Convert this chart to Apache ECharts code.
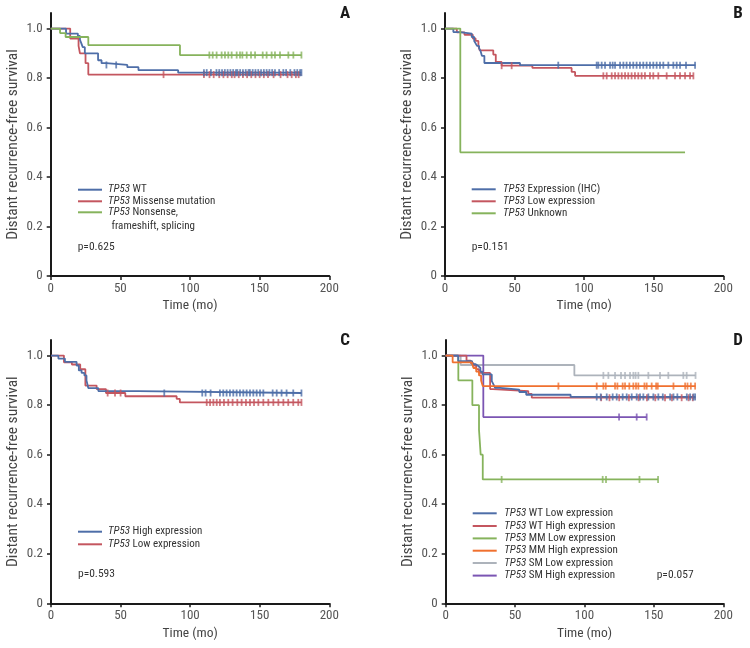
<!DOCTYPE html>
<html>
<head>
<meta charset="utf-8">
<script src="https://cdn.jsdelivr.net/npm/echarts@6/dist/echarts.min.js"></script>
<style>html,body{margin:0;padding:0;background:#fff;}#c{width:750px;height:648px;}</style>
</head>
<body>
<div id="c"></div>
<script>
// ---------- axis ticks ----------
const xTicks = [0, 50, 100, 150, 200];
const yTicks = [0, 0.2, 0.4, 0.6, 0.8, 1.0];

// ---------- Panel A ----------
const A_WT_time  = [0, 11, 19.5, 21, 22, 23, 24.5, 34, 36.5, 40, 55, 63, 91.5, 180];
const A_WT_surv  = [1, 0.98, 0.97, 0.955, 0.94, 0.925, 0.90, 0.872, 0.86, 0.853, 0.844, 0.832, 0.822, 0.822];
const A_WT_cens  = [40, 47, 110, 112, 115, 119, 121, 123, 125, 127, 129, 131, 133, 134, 136, 138, 140, 142, 143, 145, 147, 149, 151, 153, 155, 157, 159, 161, 164, 167, 169, 172, 175, 177, 179, 180];
const A_MIS_time = [0, 14, 20, 21, 25, 27, 180];
const A_MIS_surv = [1, 0.96, 0.93, 0.90, 0.86, 0.814, 0.814];
const A_MIS_cens = [81, 110, 114, 117, 121, 124, 127, 130, 132, 135, 138, 141, 144, 147, 150, 153, 156, 160, 165, 170, 173, 176, 178];
const A_NON_time = [0, 6.7, 10.7, 27, 92.8, 180];
const A_NON_surv = [1, 0.982, 0.966, 0.933, 0.893, 0.893];
const A_NON_cens = [113.9, 116.3, 119.1, 122.7, 125.1, 127.5, 129.9, 133.5, 135.9, 137.6, 140.7, 143.8, 146.7, 152.2, 155.0, 158.6, 161.0, 164.6, 170.6, 174.2, 180];

// ---------- Panel B ----------
const B_EXP_time = [0, 6, 10.8, 19.2, 21, 22, 23, 24.5, 25.5, 26.5, 28.3, 53.9, 180];
const B_EXP_surv = [1, 0.986, 0.98, 0.966, 0.95, 0.94, 0.93, 0.92, 0.91, 0.89, 0.861, 0.852, 0.852];
const B_EXP_cens = [81.4, 109, 110.2, 112.6, 115, 118.6, 120.5, 122.2, 125.8, 128.2, 130.5, 132.9, 135.3, 137.7, 140.1, 142.5, 144.9, 147.3, 149.7, 152.1, 154.5, 156.9, 160.5, 164.1, 166.5, 168.9, 173.2, 179.7];
const B_LOW_time = [0, 8.5, 14, 20, 22, 24, 25, 34.7, 36.5, 40.7, 62.8, 91, 93.5, 178.5];
const B_LOW_surv = [1, 0.985, 0.975, 0.96, 0.95, 0.93, 0.912, 0.895, 0.865, 0.85, 0.841, 0.825, 0.809, 0.809];
const B_LOW_cens = [40.7, 47.9, 113.8, 116.2, 119.8, 122.2, 124.6, 127, 129.4, 131.7, 134.1, 136.5, 138.9, 141.3, 143.7, 147.3, 149.7, 153.3, 159.3, 165.3, 168.9, 172.5, 176.1, 178.5];
const B_UNK_time = [0, 11, 172.5];
const B_UNK_surv = [1, 0.5, 0.5];
const B_UNK_cens = [];

// ---------- Panel C ----------
const C_HIGH_time = [0, 5.3, 10, 18.4, 20, 22, 24, 25.5, 26.8, 34, 62.7, 180];
const C_HIGH_surv = [1, 0.988, 0.975, 0.96, 0.94, 0.93, 0.92, 0.90, 0.869, 0.857, 0.849, 0.849];
const C_HIGH_cens = [81.4, 108.7, 111.1, 114.7, 121.4, 123.8, 126.2, 128.6, 131, 133.4, 135.8, 138.2, 140.6, 143, 145.4, 147.8, 150.2, 152.6, 159.3, 162.2, 165.7, 169.3, 174.1, 180];
const C_LOW_time = [0, 9.3, 15, 21, 24.7, 32.8, 39.5, 53.4, 90.3, 92.6, 180];
const C_LOW_surv = [1, 0.973, 0.964, 0.945, 0.879, 0.865, 0.849, 0.836, 0.825, 0.811, 0.811];
const C_LOW_cens = [40.7, 46, 50, 111.9, 114.3, 116.7, 119.1, 121.4, 124.3, 127.4, 130.5, 133.9, 137, 140.1, 143, 145.9, 149, 152.6, 156.2, 159.8, 163.4, 167, 170.5, 174.1, 177.7, 180];

// ---------- Panel D ----------
const D_WTL_time = [0, 9, 19, 21.6, 23.5, 25, 26.5, 33.2, 34.5, 35.6, 39.2, 53, 58, 90, 180];
const D_WTL_surv = [1, 0.978, 0.965, 0.958, 0.95, 0.935, 0.924, 0.897, 0.883, 0.87, 0.863, 0.853, 0.842, 0.833, 0.833];
const D_WTL_cens = [108.8, 111.7, 116, 120.3, 123.2, 127.5, 130.4, 134, 137.6, 140, 142.4, 146, 149.6, 153.2, 156.4, 161.7, 164.1, 166.9, 173.7, 176.1, 178.5, 179.7];
const D_WTH_time = [0, 15, 18, 20, 22, 24, 32, 34, 59.5, 62, 180];
const D_WTH_surv = [1, 0.98, 0.97, 0.96, 0.945, 0.93, 0.865, 0.857, 0.845, 0.83, 0.83];
const D_WTH_cens = [112, 118, 125, 132, 139, 145, 151, 158, 163, 170, 175, 178];
const D_MML_time = [0, 9.1, 19.2, 24, 25.2, 26.7, 153];
const D_MML_surv = [1, 0.9, 0.8, 0.7, 0.6, 0.5, 0.5];
const D_MML_cens = [40.3, 113.1, 115.5, 139.6, 153];
const D_MMH_time = [0, 5, 18.7, 20, 22, 24, 25.5, 26.7, 180];
const D_MMH_surv = [1, 0.973, 0.965, 0.95, 0.935, 0.92, 0.90, 0.877, 0.877];
const D_MMH_cens = [81.2, 108.8, 113.6, 115.3, 122, 123.7, 127.5, 129.2, 132.3, 135.2, 137.1, 138.8, 143.2, 144.8, 148.4, 151.6, 152.8, 164.1, 172.5, 174.2, 176.6, 179.7];
const D_SML_time = [0, 10.8, 92.7, 180];
const D_SML_surv = [1, 0.962, 0.92, 0.92];
const D_SML_cens = [113.6, 117.2, 122, 126.3, 129.2, 132.8, 135.2, 136.8, 138.8, 146, 154.4, 160.4, 171.2, 173.6, 180];
const D_SMH_time = [0, 27.1, 144.8];
const D_SMH_surv = [1, 0.752, 0.752];
const D_SMH_cens = [124.9, 137.6, 144.8];

// ---------- colours ----------
const BLUE = '#4e6ea8', RED = '#c4565f', GREEN = '#86b35c', ORANGE = '#f0702f', GREY = '#adb3bb', PURPLE = '#7b55b3';

// ---------- font selection (prefer a narrow face if installed) ----------
function hasFont(name) {
  const ctx = document.createElement('canvas').getContext('2d');
  const s = 'abcdefghijklmnopqrstuvwxyzABCDEFGHIJ0123456789';
  let diff = false;
  ['monospace', 'serif'].forEach(function (base) {
    ctx.font = '40px ' + base;
    const w0 = ctx.measureText(s).width;
    ctx.font = '40px "' + name + '", ' + base;
    const w1 = ctx.measureText(s).width;
    if (Math.abs(w1 - w0) > 0.5) diff = true;
  });
  return diff;
}
const narrowCandidates = ['Liberation Sans Narrow', 'Nimbus Sans Narrow', 'Arial Narrow', 'Roboto Condensed'];
let NARROW = null;
for (const f of narrowCandidates) { if (hasFont(f)) { NARROW = f; break; } }
const FONT = NARROW ? "'" + NARROW + "', 'Liberation Sans', sans-serif" : "'Liberation Sans', Arial, sans-serif";
const SQ = NARROW ? 1 : 0.84;           // horizontal squeeze for free text when no narrow face
const TICK_FS = NARROW ? 13 : 12.5;
const YNAME_FS = NARROW ? 15.5 : 13;
const XNAME_FS = NARROW ? 13.5 : 12.5;
const LEG_FS = NARROW ? 11 : 11;
const P_FS = NARROW ? 11.5 : 11.5;

// grid geometry
const grids = [
  {left: 50.7, top: 13, width: 278.6, height: 263},
  {left: 445, top: 13, width: 278.3, height: 263},
  {left: 51, top: 340, width: 278.3, height: 263.3},
  {left: 445.7, top: 340, width: 277.6, height: 263.3}
];
const YMAX = 1.063;

function stepAt(times, survs, t) {
  let s = survs[0];
  for (let i = 0; i < times.length; i++) if (times[i] <= t) s = survs[i];
  return s;
}
const series = [];
function curve(name, times, survs, cens, color, gi) {
  series.push({
    name: name, type: 'line', xAxisIndex: gi, yAxisIndex: gi, step: 'end',
    data: times.map((t, i) => [t, survs[i]]), symbol: 'none',
    lineStyle: {color: color, width: 1.8}, silent: true, animation: false, z: 2
  });
  if (cens.length) series.push({
    name: name + ' censored', type: 'scatter', xAxisIndex: gi, yAxisIndex: gi,
    data: cens.map(t => [t, stepAt(times, survs, t)]),
    symbol: 'rect', symbolSize: [1.8, 7], itemStyle: {color: color},
    silent: true, animation: false, z: 3
  });
}
curve('A Missense', A_MIS_time, A_MIS_surv, A_MIS_cens, RED, 0);
curve('A WT', A_WT_time, A_WT_surv, A_WT_cens, BLUE, 0);
curve('A Nonsense', A_NON_time, A_NON_surv, A_NON_cens, GREEN, 0);
curve('B Low', B_LOW_time, B_LOW_surv, B_LOW_cens, RED, 1);
curve('B Expression', B_EXP_time, B_EXP_surv, B_EXP_cens, BLUE, 1);
curve('B Unknown', B_UNK_time, B_UNK_surv, B_UNK_cens, GREEN, 1);
curve('C Low', C_LOW_time, C_LOW_surv, C_LOW_cens, RED, 2);
curve('C High', C_HIGH_time, C_HIGH_surv, C_HIGH_cens, BLUE, 2);
curve('D MM Low', D_MML_time, D_MML_surv, D_MML_cens, GREEN, 3);
curve('D SM Low', D_SML_time, D_SML_surv, D_SML_cens, GREY, 3);
curve('D SM High', D_SMH_time, D_SMH_surv, D_SMH_cens, PURPLE, 3);
curve('D WT High', D_WTH_time, D_WTH_surv, D_WTH_cens, RED, 3);
curve('D WT Low', D_WTL_time, D_WTL_surv, D_WTL_cens, BLUE, 3);
curve('D MM High', D_MMH_time, D_MMH_surv, D_MMH_cens, ORANGE, 3);

const axisLineStyle = {color: '#1a1a1a', width: 2};
const xAxes = grids.map((g, i) => ({
  type: 'value', gridIndex: i, min: 0, max: 200, interval: 50,
  name: 'Time (mo)', nameLocation: 'middle', nameGap: 23,
  nameTextStyle: {fontFamily: FONT, fontSize: XNAME_FS, color: '#444'},
  axisLine: {show: true, onZero: false, lineStyle: axisLineStyle},
  axisTick: {show: true, inside: false, length: 4, customValues: xTicks, lineStyle: {color: '#1a1a1a', width: 1.5}},
  axisLabel: {fontFamily: FONT, fontSize: TICK_FS, color: '#555', margin: 6, customValues: xTicks, formatter: v => String(v)},
  splitLine: {show: false}
}));
const yAxes = grids.map((g, i) => ({
  type: 'value', gridIndex: i, min: 0, max: YMAX,
  name: 'Distant recurrence-free survival', nameLocation: 'middle', nameGap: 30,
  nameTextStyle: {fontFamily: FONT, fontSize: YNAME_FS, color: '#444'},
  axisLine: {show: true, onZero: false, lineStyle: axisLineStyle},
  axisTick: {show: true, inside: false, length: 4, customValues: yTicks, lineStyle: {color: '#1a1a1a', width: 1.5}},
  axisLabel: {fontFamily: FONT, fontSize: TICK_FS, color: '#555', margin: 8, customValues: yTicks,
    formatter: v => (Math.abs(v) < 1e-9 ? '0' : v.toFixed(1))},
  splitLine: {show: false}
}));

// ---------- legends / annotations ----------
const graphic = [];
function legendRow(x1, x2, tx, y, color, label) {
  graphic.push({type: 'line', shape: {x1: x1, y1: y, x2: x2, y2: y}, style: {stroke: color, lineWidth: 2}, silent: true});
  graphic.push({type: 'text', x: tx, y: y, scaleX: SQ, silent: true, style: {
    text: '{i|TP53} ' + label, fill: '#333', fontFamily: FONT, fontSize: LEG_FS, verticalAlign: 'middle',
    rich: {i: {fontStyle: 'italic', fontFamily: FONT, fontSize: LEG_FS, fill: '#333'}}
  }});
}
function plainText(x, y, text, opts, sq) {
  graphic.push({type: 'text', x: x, y: y, scaleX: sq == null ? SQ : sq, silent: true, style: Object.assign({
    text: text, fill: '#333', fontFamily: FONT, fontSize: P_FS, verticalAlign: 'middle'
  }, opts || {})});
}
// A
legendRow(78, 102, 108, 189.7, BLUE, 'WT');
legendRow(78, 102, 108, 201.3, RED, 'Missense mutation');
legendRow(78, 102, 108, 212.3, GREEN, 'Nonsense,');
plainText(111.5, 226.5, 'frameshift, splicing', {fontSize: LEG_FS});
plainText(77.7, 247, 'p=0.625');
// B
legendRow(471.7, 495.7, 503, 189.3, BLUE, 'Expression (IHC)');
legendRow(471.7, 495.7, 503, 201.3, RED, 'Low expression');
legendRow(471.7, 495.7, 503, 213.3, GREEN, 'Unknown');
plainText(471.7, 247, 'p=0.151');
// C
legendRow(78, 102, 108, 531.7, BLUE, 'High expression');
legendRow(78, 102, 108, 544.3, RED, 'Low expression');
plainText(78, 574.3, 'p=0.593');
// D
legendRow(472.7, 496.7, 504.3, 513.3, BLUE, 'WT Low expression');
legendRow(472.7, 496.7, 504.3, 526, RED, 'WT High expression');
legendRow(472.7, 496.7, 504.3, 538.4, GREEN, 'MM Low expression');
legendRow(472.7, 496.7, 504.3, 550.7, ORANGE, 'MM High expression');
legendRow(472.7, 496.7, 504.3, 563, GREY, 'SM Low expression');
legendRow(472.7, 496.7, 504.3, 575.6, PURPLE, 'SM High expression');
plainText(656.7, 575.6, 'p=0.057');
// panel letters
const letterStyle = {fontSize: 17, fontWeight: 'bold', fill: '#1a1a1a', align: 'center'};
plainText(345, 14, 'A', letterStyle, 1);
plainText(738, 14, 'B', letterStyle, 1);
plainText(345, 341, 'C', letterStyle, 1);
plainText(738, 341, 'D', letterStyle, 1);

const chart = echarts.init(document.getElementById('c'), null, {renderer: 'canvas'});
chart.setOption({
  backgroundColor: '#ffffff',
  animation: false,
  grid: grids.map(g => Object.assign({containLabel: false}, g)),
  xAxis: xAxes,
  yAxis: yAxes,
  series: series,
  graphic: graphic
});
</script>
</body>
</html>
